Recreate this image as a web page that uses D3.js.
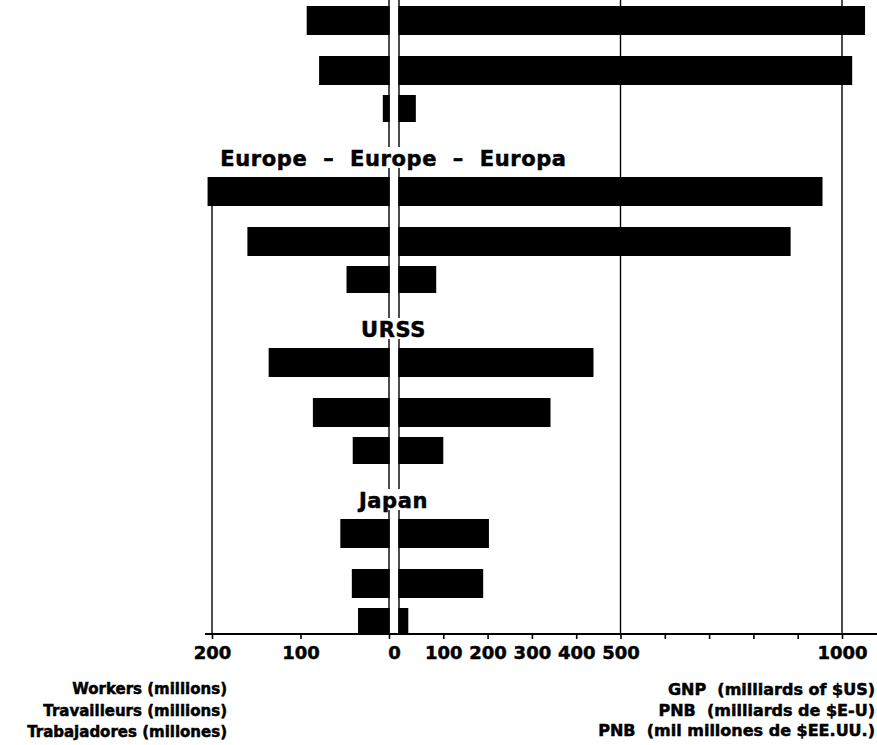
<!DOCTYPE html>
<html>
<head>
<meta charset="utf-8">
<script src="https://cdn.jsdelivr.net/npm/d3@7"></script>
<style>
  body { margin: 0; background: #fff; }
  text { font-family: "DejaVu Sans", sans-serif; font-weight: bold; fill: #000; stroke: #000; stroke-width: 0.5px; }
</style>
</head>
<body>
<div id="chart"></div>
<script>
// groups from top to bottom, the first title is cut off in the picture
var groups = ["top", "Europe", "URSS", "Japan"];
var groupTitles = ["", "Europe  –  Europe  –  Europa", "URSS", "Japan"];
var rows = ["r1", "r2", "r3"];

// workers, millions (left side)
var workers = [
  [93, 79, 7],
  [205, 160, 48],
  [136, 86, 41],
  [55, 42, 35]
];
// GNP, milliards of $US (right side)
var gnp = [
  [1052, 1023, 38],
  [956, 884, 84],
  [439, 342, 100],
  [203, 190, 21]
];

var leftTicks = [200, 100, 0];
var rightTicks = [100, 200, 300, 400, 500, 600, 700, 800, 900, 1000];
var rightLabels = [100, 200, 300, 400, 500, 1000];
var rightGrid = [500, 1000];

var leftCaptions = ["Workers (millions)", "Travailleurs (millions)", "Trabajadores (millones)"];
var rightCaptions = ["GNP  (milliards of $US)", "PNB  (milliards de $E-U)", "PNB  (mil millones de $EE.UU.)"];

var width = 877;
var height = 745;
var axisY = 634;

/* Scales */
var xLeft = d3.scaleLinear().domain([0, 200]).range([389, 212]);
var xRight = d3.scaleLinear().domain([0, 1000]).range([399, 842]);

var yGroup = d3.scalePoint().domain(groups).range([6, 6 + 171 * 3]);
var yRow = d3.scaleOrdinal().domain(rows).range([0, 50, 89]);
var hRow = d3.scaleOrdinal().domain(rows).range([29, 29, 27]);

var bars = [];
groups.forEach(function(g, i) {
  rows.forEach(function(r, j) {
    bars.push({group: g, row: r, workers: workers[i][j], gnp: gnp[i][j]});
  });
});

var svg = d3.select("#chart").append("svg")
  .attr("width", width)
  .attr("height", height);

svg.append("rect").attr("width", width).attr("height", height).attr("fill", "#fff");

/* grid lines */
var grid = svg.append("g")
  .attr("stroke", "#000")
  .attr("stroke-width", 1.4);

grid.selectAll(".gridR")
  .data(rightGrid).enter()
  .append("line")
  .attr("x1", d => xRight(d)).attr("x2", d => xRight(d))
  .attr("y1", 0).attr("y2", axisY);

grid.append("line")
  .attr("x1", xLeft(200)).attr("x2", xLeft(200))
  .attr("y1", yGroup("Europe")).attr("y2", axisY);

// the two zero lines with the white gap between them
grid.selectAll(".zero")
  .data([xLeft(0), xRight(0)]).enter()
  .append("line")
  .attr("x1", d => d).attr("x2", d => d)
  .attr("y1", 0).attr("y2", axisY);

/* bars */
var barG = svg.append("g").attr("fill", "#000");

barG.selectAll(".barL")
  .data(bars).enter()
  .append("rect")
  .attr("class", "barL")
  .attr("x", d => xLeft(d.workers))
  .attr("y", d => yGroup(d.group) + yRow(d.row))
  .attr("width", d => xLeft(0) - xLeft(d.workers) + 0.7)
  .attr("height", d => hRow(d.row));

barG.selectAll(".barR")
  .data(bars).enter()
  .append("rect")
  .attr("class", "barR")
  .attr("x", xRight(0) - 0.7)
  .attr("y", d => yGroup(d.group) + yRow(d.row))
  .attr("width", d => xRight(d.gnp) - xRight(0) + 0.7)
  .attr("height", d => hRow(d.row));

/* group titles, they cut the zero lines */
var titles = svg.selectAll(".title")
  .data(groups.filter((g, i) => groupTitles[i] !== "")).enter()
  .append("g")
  .attr("class", "title");

titles.append("rect").attr("fill", "#fff");

titles.append("text")
  .attr("x", (xLeft(0) + xRight(0)) / 2 - 0.5)
  .attr("y", d => yGroup(d) - 11)
  .attr("text-anchor", "middle")
  .style("font-size", "21px")
  .style("letter-spacing", "0.6px")
  .style("white-space", "pre")
  .text(d => groupTitles[groups.indexOf(d)]);

titles.each(function() {
  var t = d3.select(this).select("text").node().getBBox();
  d3.select(this).select("rect")
    .attr("x", t.x - 2).attr("y", t.y)
    .attr("width", t.width + 4).attr("height", t.height - 3);
});

/* axes */
var axisL = d3.axisBottom(xLeft).tickValues(leftTicks).tickSize(5).tickPadding(3);
var axisR = d3.axisBottom(xRight).tickValues(rightTicks).tickSize(5).tickPadding(3)
  .tickFormat(d => rightLabels.indexOf(d) >= 0 ? d : "");

var gL = svg.append("g").attr("transform", `translate(0, ${axisY})`).call(axisL);
var gR = svg.append("g").attr("transform", `translate(0, ${axisY})`).call(axisR);

[gL, gR].forEach(function(g) {
  g.select(".domain").remove();
  g.selectAll(".tick line").attr("stroke", "#000").attr("stroke-width", 1.6);
  g.selectAll(".tick text")
    .attr("fill", "#000")
    .style("font-size", "18px")
    .style("font-family", "DejaVu Sans")
    .style("font-weight", "bold")
    .attr("y", 12);
});
// single "0" label centred on the gap
gL.selectAll(".tick text").filter(d => d === 0).attr("x", 5);

svg.append("line")
  .attr("x1", 205).attr("x2", width)
  .attr("y1", axisY).attr("y2", axisY)
  .attr("stroke", "#000")
  .attr("stroke-width", 2);

/* captions */
svg.selectAll(".capL")
  .data(leftCaptions).enter()
  .append("text")
  .attr("x", 227)
  .attr("y", (d, i) => 694 + i * 21.5)
  .attr("text-anchor", "end")
  .style("font-size", "15px")
  .text(d => d);

svg.selectAll(".capR")
  .data(rightCaptions).enter()
  .append("text")
  .attr("x", 875)
  .attr("y", (d, i) => 695 + i * 20.5)
  .attr("text-anchor", "end")
  .style("font-size", "16px")
  .style("white-space", "pre")
  .text(d => d);
</script>
</body>
</html>
